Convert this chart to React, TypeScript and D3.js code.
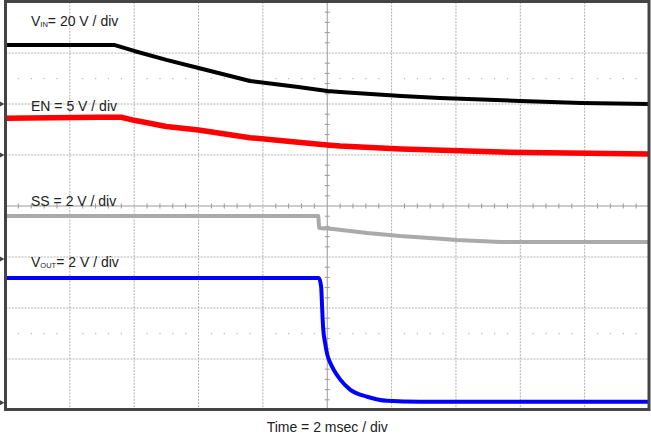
import React from "react";
import * as d3 from "d3";

// ---- data (time in ms, values in volts) ----
const vinTime = [-10, -6.6, -6.0, -5.0, -4.0, -2.4, -1.9, -0.9, 0, 0.4, 2.3, 3.5, 6.0, 7.9, 10];
const vinVolts = [23.1, 23.1, 20.8, 17.3, 14.1, 9.0, 8.2, 6.7, 5.1, 4.7, 3.1, 2.4, 1.2, 0.4, 0.0];

const enTime = [-10, -7.1, -6.4, -6.0, -5.0, -4.0, -2.4, -0.9, 0, 0.4, 2.3, 5.4, 10];
const enVolts = [3.6, 3.7, 3.7, 3.4, 2.8, 2.45, 1.7, 1.25, 0.98, 0.88, 0.59, 0.29, 0.1];

const ssTime = [-10, -0.28, -0.25, 0.18, 1.24, 2.26, 3.29, 4.03, 5.37, 10];
const ssVolts = [1.69, 1.69, 1.22, 1.18, 1.02, 0.9, 0.82, 0.75, 0.67, 0.67];

const voutTime = [-10, -0.26, -0.19, -0.16, -0.13, -0.06, 0.0, 0.1, 0.2, 0.4, 0.71, 1.24, 1.86, 2.88, 10];
const voutVolts = [4.9, 4.9, 4.55, 3.76, 2.98, 2.3, 1.9, 1.55, 1.3, 0.92, 0.52, 0.24, 0.08, 0.04, 0.04];

// channel settings: ground position (divisions from centre) and volts per division
const channelNames = ["VIN", "EN", "SS", "VOUT"];
const channelGround = [2.0, 1.0, -1.04, -3.86];
const channelVoltsPerDiv = [20, 5, 2, 2];
const channelMain = ["V", "EN", "SS", "V"];
const channelSub = ["IN", "", "", "OUT"];
const channelRest = ["= 20 V / div", " = 5 V / div", " = 2 V / div", "= 2 V / div"];
const channelColors = ["#000000", "#ff0000", "#aaaaaa", "#0000ff"];
const channelWidths = [4, 5.5, 4, 4];
const labelDiv = [3.53, 1.87, 0.0, -1.19];

const timeDomain = [-10, 10];
const divDomain = [-4, 4];
const timeLabel = "Time = 2 msec / div";

const W = 651;
const H = 434;
const L = 5.5, R = 649, T = 2, B = 410;

export default function App() {
  const x = d3.scaleLinear().domain(timeDomain).range([L, R]);
  const y = d3.scaleLinear().domain(divDomain).range([B, T]);

  const series = [
    [vinTime, vinVolts],
    [enTime, enVolts],
    [ssTime, ssVolts],
    [voutTime, voutVolts],
  ];

  const majorX = d3.range(-8, 9, 2);
  const majorY = d3.range(-3, 4, 1);
  const minorX = d3.range(-10, 10.001, 0.4).filter((t) => Math.abs(t / 2 - Math.round(t / 2)) > 0.01);
  const minorY = d3.range(-4, 4.001, 0.2).filter((v) => Math.abs(v - Math.round(v)) > 0.01);
  const halfRows = [2.5, -2.5];

  const paths = series.map(([ts, vs], i) => {
    const pts = ts.map((t, k) => [t, channelGround[i] + vs[k] / channelVoltsPerDiv[i]] as [number, number]);
    const gen = d3
      .line<[number, number]>()
      .x((d) => x(d[0]))
      .y((d) => y(d[1]))
      .curve(i === 3 ? d3.curveMonotoneX : d3.curveLinear);
    return gen(pts) || "";
  });

  const font = "'Liberation Sans', Arial, Helvetica, sans-serif";

  return (
    <svg
      width={W}
      height={H}
      style={{ position: "absolute", left: 0, top: 0, background: "#fff" }}
      fontFamily={font}
    >
      <defs>
        <clipPath id="plotClip">
          <rect x={L} y={T} width={R - L} height={B - T} />
        </clipPath>
      </defs>
      <rect x={0} y={0} width={W} height={H} fill="#fff" />
      {/* major grid */}
      {majorX
        .filter((t) => t !== 0)
        .map((t) => (
          <line key={"gx" + t} x1={x(t)} x2={x(t)} y1={T} y2={B} stroke="#b0b0b0" strokeWidth={1} strokeDasharray="2,1.2" />
        ))}
      {majorY
        .filter((v) => v !== 0)
        .map((v) => (
          <line key={"gy" + v} x1={L} x2={R} y1={y(v)} y2={y(v)} stroke="#b0b0b0" strokeWidth={1} strokeDasharray="2,1.2" />
        ))}
      {/* sparse dots at +-2.5 div */}
      {halfRows.map((v) =>
        minorX.map((t) => (
          <rect key={"d" + v + "_" + t} x={x(t) - 0.6} y={y(v) - 0.6} width={1.3} height={1.3} fill="#bdbdbd" />
        ))
      )}
      {/* centre axes */}
      <line x1={L} x2={R} y1={y(0)} y2={y(0)} stroke="#9a9a9a" strokeWidth={1} />
      <line x1={x(0)} x2={x(0)} y1={T} y2={B} stroke="#9a9a9a" strokeWidth={1} />
      {minorX.map((t) => (
        <line key={"tx" + t} x1={x(t)} x2={x(t)} y1={y(0) - 2.5} y2={y(0) + 2.5} stroke="#9a9a9a" strokeWidth={1} />
      ))}
      {minorY.map((v) => (
        <line key={"ty" + v} x1={x(0) - 2.5} x2={x(0) + 2.5} y1={y(v)} y2={y(v)} stroke="#9a9a9a" strokeWidth={1} />
      ))}
      {/* traces */}
      <g clipPath="url(#plotClip)">
        {paths.map((p, i) => (
          <path
            key={channelNames[i]}
            d={p}
            fill="none"
            stroke={channelColors[i]}
            strokeWidth={channelWidths[i]}
            strokeLinejoin="round"
          />
        ))}
      </g>
      {/* frame */}
      <rect x={L} y={T - 0.5} width={R - L} height={B - T} fill="none" stroke="#444" strokeWidth={3} />
      {/* ground markers */}
      {channelGround.map((g, i) => (
        <path
          key={"m" + i}
          d={`M0,${y(g) - 2.5} L4.5,${y(g)} L0,${y(g) + 2.5} Z`}
          fill="#444"
        />
      ))}
      {/* channel labels */}
      {channelNames.map((n, i) => (
        <text key={"l" + n} x={31} y={y(labelDiv[i])} fontSize={14} fill="#222">
          <tspan>{channelMain[i]}</tspan>
          {channelSub[i] ? (
            <tspan fontSize={7.5} dy={1}>
              {channelSub[i]}
            </tspan>
          ) : null}
          <tspan dy={channelSub[i] ? -1 : 0}>{channelRest[i]}</tspan>
        </text>
      ))}
      <text x={x(0)} y={431.5} fontSize={14} fill="#222" textAnchor="middle">
        {timeLabel}
      </text>
    </svg>
  );
}
